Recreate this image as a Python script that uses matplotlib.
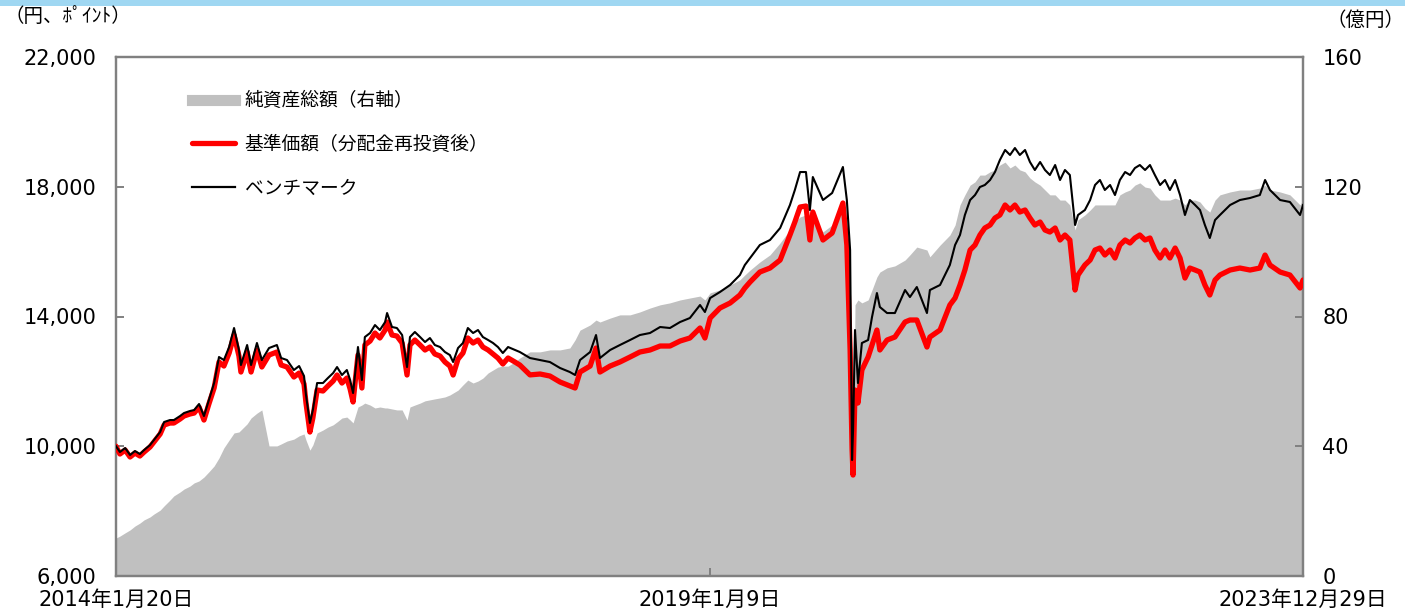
import numpy as np
import pandas as pd
import matplotlib
matplotlib.use("Agg")
import matplotlib.pyplot as plt
from matplotlib.lines import Line2D
from matplotlib.patches import Rectangle

plt.rcParams["font.family"] = ["Noto Sans CJK JP", "DejaVu Sans"]
NUM_FONT = ["DejaVu Sans", "Noto Sans CJK JP"]

# days since the launch date (2014-01-20)
days = [
    0, 12, 28, 43, 58, 73, 86, 104, 116, 135, 147, 165, 177, 196, 208, 226, 239, 254,
    269, 284, 300, 315, 330, 346, 361, 376, 382, 401, 413, 431, 446, 468, 492, 505,
    523, 544, 560, 575, 581, 593, 602, 615, 633, 648, 664, 676, 691, 706, 716, 725,
    740, 752, 761, 777, 792, 807, 823, 829, 844, 859, 875, 890, 899, 914, 930, 945,
    960, 975, 991, 1006, 1021, 1031, 1046, 1061, 1076, 1092, 1107, 1122, 1138, 1153,
    1168, 1183, 1199, 1220, 1235, 1266, 1297, 1327, 1358, 1388, 1404, 1419, 1450,
    1468, 1480, 1511, 1541, 1572, 1602, 1633, 1664, 1694, 1725, 1755, 1786, 1801,
    1817, 1847, 1878, 1908, 1923, 1939, 1969, 2000, 2031, 2061, 2076, 2092, 2110,
    2122, 2131, 2162, 2190, 2223, 2235, 2245, 2251, 2254, 2260, 2269, 2281, 2300,
    2312, 2327, 2336, 2358, 2382, 2413, 2428, 2449, 2480, 2489, 2520, 2550, 2566,
    2581, 2596, 2612, 2627, 2642, 2657, 2673, 2688, 2703, 2719, 2734, 2749, 2764,
    2780, 2795, 2810, 2826, 2841, 2856, 2872, 2887, 2902, 2917, 2933, 2942, 2963,
    2979, 2994, 3009, 3024, 3040, 3055, 3070, 3086, 3101, 3116, 3131, 3147, 3162,
    3177, 3193, 3208, 3223, 3239, 3254, 3269, 3284, 3300, 3315, 3330, 3345, 3361,
    3376, 3407, 3437, 3468, 3498, 3514, 3529, 3560, 3590, 3621, 3630,
]

# benchmark (points)
bench = [
    10000, 9822, 9945, 9730, 9853, 9760, 9884, 10038, 10192, 10438, 10747, 10808,
    10808, 10932, 11024, 11086, 11117, 11302, 10932, 11425, 11949, 12751, 12658,
    13059, 13645, 12967, 12504, 13121, 12504, 13183, 12658, 13028, 13121, 12720,
    12658, 12350, 12473, 12165, 11579, 10716, 11117, 11949, 11949, 12103, 12257,
    12442, 12196, 12350, 12042, 11641, 13059, 12042, 13367, 13491, 13737, 13583,
    13830, 14107, 13676, 13645, 13429, 12442, 13367, 13522, 13367, 13213, 13336,
    13121, 13059, 12905, 12812, 12597, 13028, 13183, 13645, 13491, 13583, 13367,
    13275, 13183, 13059, 12874, 13059, 12967, 12905, 12720, 12658, 12596, 12412,
    12288, 12196, 12658, 12905, 13429, 12720, 12967, 13121, 13275, 13429, 13491,
    13676, 13645, 13830, 13953, 14354, 14138, 14570, 14755, 14971, 15279, 15587,
    15803, 16204, 16358, 16727, 17437, 17899, 18454, 18454, 17283, 18300, 17591,
    17807, 18609, 17591, 16050, 9575, 10500, 13583, 11949, 13183, 13275, 13984,
    14724, 14292, 14107, 14107, 14816, 14600, 14909, 14107, 14816, 14971, 15587,
    16204, 16512, 17129, 17591, 17745, 17992, 18054, 18208, 18454, 18824, 19133,
    18979, 19194, 18979, 19133, 18763, 18516, 18763, 18516, 18362, 18670, 18208,
    18516, 18362, 16820, 17129, 17283, 17591, 18054, 18208, 17900, 18054, 17745,
    18208, 18454, 18362, 18577, 18670, 18516, 18670, 18362, 18054, 18208, 17900,
    18208, 17745, 17129, 17591, 17437, 17283, 16820, 16420, 16974, 17129, 17437,
    17591, 17653, 17745, 18208, 17900, 17591, 17530, 17129, 17437,
]

# 基準価額 (yen, dividends reinvested)
nav = [
    10000, 9760, 9884, 9668, 9791, 9699, 9822, 9976, 10130, 10377, 10654, 10716,
    10716, 10840, 10932, 10994, 11024, 11209, 10808, 11302, 11795, 12597, 12473,
    12874, 13429, 12782, 12288, 12905, 12288, 12967, 12443, 12812, 12905, 12504,
    12443, 12134, 12257, 11918, 11333, 10438, 10870, 11734, 11703, 11857, 12011,
    12196, 11949, 12103, 11764, 11364, 12813, 11795, 13121, 13244, 13491, 13337,
    13583, 13830, 13429, 13398, 13183, 12196, 13121, 13275, 13121, 12967, 13059,
    12843, 12782, 12597, 12473, 12196, 12689, 12874, 13337, 13183, 13275, 13059,
    12967, 12843, 12720, 12535, 12720, 12597, 12504, 12200, 12227, 12165, 11980,
    11857, 11795, 12288, 12473, 13028, 12288, 12473, 12597, 12751, 12905, 12967,
    13090, 13090, 13244, 13337, 13645, 13337, 13953, 14261, 14416, 14662, 14878,
    15063, 15371, 15494, 15741, 16512, 16913, 17375, 17406, 16358, 17221, 16358,
    16574, 17499, 16204, 12967, 9900, 9113, 11734, 11333, 12350, 12751, 13121,
    13583, 12967, 13275, 13367, 13830, 13892, 13892, 13059, 13367, 13583, 14354,
    14570, 14971, 15433, 16050, 16204, 16512, 16728, 16820, 17036, 17129, 17437,
    17283, 17437, 17221, 17283, 17036, 16820, 16913, 16666, 16604, 16728, 16358,
    16512, 16358, 14816, 15279, 15587, 15741, 16050, 16111, 15895, 16050, 15803,
    16204, 16358, 16266, 16420, 16512, 16358, 16420, 16050, 15803, 16050, 15803,
    16111, 15803, 15186, 15494, 15433, 15371, 14971, 14662, 15125, 15279, 15433,
    15494, 15433, 15494, 15895, 15587, 15371, 15279, 14878, 15125,
]

# 純資産総額 (100 million yen, right axis)
assets = [
    11.7, 12.3, 13.3, 14.2, 15.4, 16.3, 17.3, 18.2, 19.1, 20.3, 21.6, 23.4, 24.7,
    25.9, 26.8, 27.7, 28.7, 29.3, 30.5, 32.1, 33.9, 36.4, 39.5, 41.9, 44.1, 44.4,
    45.0, 46.9, 48.7, 50.2, 51.2, 40.1, 40.1, 40.7, 41.6, 42.2, 43.2, 43.8, 41.9,
    38.8, 40.4, 44.1, 45.0, 45.9, 46.6, 47.5, 48.7, 49.0, 48.1, 47.2, 52.1, 52.7,
    53.3, 52.7, 51.8, 52.1, 51.8, 51.8, 51.5, 51.2, 51.2, 48.1, 52.1, 52.7, 53.3,
    54.0, 54.3, 54.6, 54.9, 55.2, 55.8, 56.4, 57.3, 58.9, 60.4, 59.5, 60.1, 61.0,
    62.6, 63.5, 64.4, 64.7, 64.7, 66.0, 67.2, 69.1, 69.1, 69.7, 69.7, 70.3, 72.8,
    75.8, 77.4, 78.9, 78.3, 79.5, 80.5, 80.5, 81.4, 82.6, 83.6, 84.2, 85.1, 85.7,
    86.3, 85.1, 87.3, 88.2, 89.7, 91.3, 92.8, 94.3, 96.8, 99.0, 102.7, 106.7,
    109.1, 110.7, 111.3, 104.2, 109.8, 106.1, 108.2, 114.4, 100.5, 78.9, 38.0,
    31.1, 83.6, 85.1, 84.2, 85.1, 88.2, 92.2, 93.7, 95.0, 95.6, 97.4, 99.0, 101.4,
    100.5, 98.4, 102.0, 105.1, 108.2, 114.4, 117.5, 120.5, 121.5, 123.6, 123.6,
    124.6, 125.2, 126.7, 127.6, 125.8, 126.7, 125.2, 124.6, 122.7, 121.5, 120.5,
    119.0, 117.5, 117.5, 115.9, 115.9, 114.4, 106.7, 109.8, 111.3, 112.8, 114.4,
    114.4, 114.4, 114.4, 114.4, 117.5, 118.4, 119.0, 120.5, 121.2, 119.9, 119.6,
    117.5, 115.9, 115.9, 115.9, 116.5, 115.9, 114.4, 115.9, 115.9, 115.3, 113.4,
    112.2, 115.9, 117.5, 118.4, 119.0, 119.0, 119.6, 120.5, 119.0, 118.4, 117.5,
    114.4, 115.9,
]

start = pd.Timestamp("2014-01-20")
dates = start + pd.to_timedelta(days, unit="D")

xtick_dates = ["2014-01-20", "2019-01-09", "2023-12-29"]
xtick_labels = ["2014年1月20日", "2019年1月9日", "2023年12月29日"]
left_ticks = [6000, 10000, 14000, 18000, 22000]
right_ticks = [0, 40, 80, 120, 160]

frame = "#808080"

fig = plt.figure(figsize=(14.05, 6.10), dpi=100)
ax = fig.add_axes([116 / 1405, 34 / 610, 1187 / 1405, 519 / 610])
ax_r = ax.twinx()

ax_r.fill_between(dates, 0, assets, color="#c0c0c0", lw=0)
ax.plot(dates, nav, color="#ff0000", lw=3.8, solid_capstyle="round", zorder=3)
ax.plot(dates, bench, color="black", lw=1.5, zorder=4)

ax.set_zorder(ax_r.get_zorder() + 1)
ax.patch.set_visible(False)

ax.set_xlim(start, pd.Timestamp("2023-12-29"))
ax.set_ylim(6000, 22000)
ax_r.set_ylim(0, 160)

ax.set_yticks(left_ticks)
ax.set_yticklabels([f"{v:,}" for v in left_ticks], fontsize=15, family=NUM_FONT)
ax_r.set_yticks(right_ticks)
ax_r.set_yticklabels([str(v) for v in right_ticks], fontsize=15, family=NUM_FONT)
ax.set_xticks(pd.to_datetime(xtick_dates))
ax.set_xticklabels(xtick_labels, fontsize=15, family=NUM_FONT)

for a in (ax, ax_r):
    for s in a.spines.values():
        s.set_color(frame)
        s.set_linewidth(1.6)
    a.tick_params(direction="in", length=6, width=1.4, color=frame, labelcolor="black")
ax.tick_params(axis="y", pad=14)
ax_r.tick_params(axis="y", pad=14)
ax.tick_params(axis="x", pad=10)

handles = [
    Line2D([], [], color="#c0c0c0", lw=8),
    Line2D([], [], color="#ff0000", lw=3.8, solid_capstyle="round"),
    Line2D([], [], color="black", lw=1.6),
]
labels = ["純資産総額（右軸）", "基準価額（分配金再投資後）", "ベンチマーク"]
ax.legend(handles, labels, loc="upper left", bbox_to_anchor=(0.05, 0.968),
          frameon=False, fontsize=13.5, handlelength=2.3, handletextpad=0.5,
          labelspacing=1.2)

fig.text(5 / 1405, 1 - 17 / 610, "（円、ﾎﾟｲﾝﾄ）", fontsize=14, va="center", ha="left")
fig.text(1405 / 1405, 1 - 20 / 610, "（億円）", fontsize=14, va="center", ha="right")

# cut-off title band at the very top
fig.patches.append(Rectangle((0, 1 - 6 / 610), 1, 6 / 610, transform=fig.transFigure,
                             color="#9fd7f2", lw=0))

fig.savefig("out.png", dpi=100)
